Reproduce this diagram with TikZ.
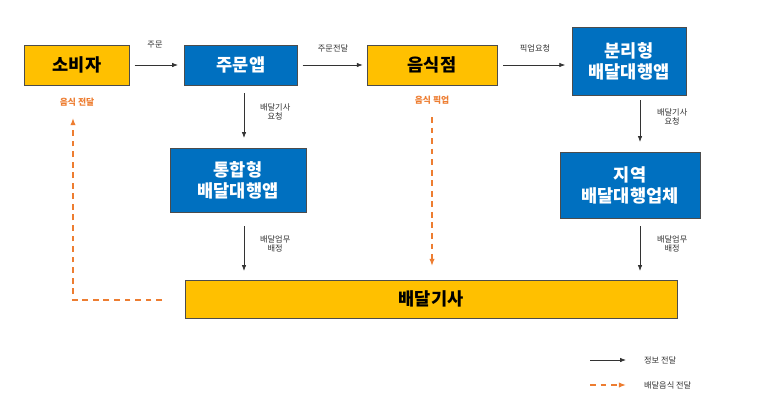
\documentclass[tikz,border=0pt]{standalone}
\usepackage{fontspec}
\setmainfont{Noto Sans CJK KR}
\usetikzlibrary{positioning,arrows.meta}
\definecolor{boxblue}{HTML}{0070C0}
\definecolor{boxgold}{HTML}{FFC000}
\definecolor{dashor}{HTML}{ED7D31}
\tikzset{
  gold/.style={draw=black!70, fill=boxgold, font=\fontsize{15}{17}\selectfont\bfseries, text=black, inner sep=0pt},
  blue/.style={draw=black!70, fill=boxblue, font=\fontsize{15}{18}\selectfont\bfseries, text=white, inner sep=0pt, align=center},
  info/.style={-{Latex[length=5pt]}, black!80, line width=0.6pt},
  food/.style={-{Latex[length=6pt]}, dashor, line width=1.6pt, dash pattern=on 5pt off 4pt},
  lbl/.style={font=\fontsize{7}{8}\selectfont, text=black!80, align=center},
  olbl/.style={font=\fontsize{7.5}{9}\selectfont\bfseries, text=dashor}
}
\begin{document}
\begin{tikzpicture}[x=0.03cm,y=-0.03cm]
	\useasboundingbox (0,0) rectangle (761,412);
	% top row
	\node [gold, minimum width=105*0.03cm, minimum height=40*0.03cm] (consumer) at (77,65) {소비자};
	\node [blue, minimum width=113*0.03cm, minimum height=40*0.03cm] (orderapp) at (241,65) {주문앱};
	\node [gold, minimum width=130*0.03cm, minimum height=40*0.03cm] (store) at (432,65) {음식점};
	\node [blue, minimum width=114*0.03cm, minimum height=68*0.03cm] (sepapp) at (629,61) {분리형\\배달대행앱};
	% middle row
	\node [blue, minimum width=136*0.03cm, minimum height=64*0.03cm] (intapp) at (238,180) {통합형\\배달대행앱};
	\node [blue, minimum width=140*0.03cm, minimum height=66*0.03cm] (local) at (630,185) {지역\\배달대행업체};
	% bottom
	\node [gold, minimum width=492*0.03cm, minimum height=38*0.03cm] (rider) at (431,299) {배달기사};
	% orange labels
	\node [olbl] (deliv) at (77,102) {음식 전달};
	\node [olbl] (pickup) at (432,100) {음식 픽업};
	% info arrows
	\draw [info] (consumer.east) ++(5,0) coordinate (c1) -- (orderapp.west -| 178,0) coordinate (c2);
	\node [lbl] at (155,45) {주문};
	\draw [info] (orderapp.east) ++(5,0) -- ++(60,0);
	\node [lbl] at (333,48) {주문전달};
	\draw [info] (store.east) ++(6,0) -- ++(62,0);
	\node [lbl] at (535,48) {픽업요청};
	\coordinate (a1) at (244,93); \coordinate (a2) at (244,138);
	\draw [info] (a1) -- (a2);
	\node [lbl, right] at (256,112) {배달기사\\요청};
	\coordinate (b1) at (640,100); \coordinate (b2) at (640,142);
	\draw [info] (b1) -- (b2);
	\node [lbl, right] at (653,117) {배달기사\\요청};
	\coordinate (d1) at (244,226); \coordinate (d2) at (244,271);
	\draw [info] (d1) -- (d2);
	\node [lbl, right] at (256,244) {배달업무\\배정};
	\coordinate (e1) at (640,226); \coordinate (e2) at (640,271);
	\draw [info] (e1) -- (e2);
	\node [lbl, right] at (653,244) {배달업무\\배정};
	% food arrows
	\coordinate (f1) at (432,117); \coordinate (f2) at (432,266);
	\draw [food] (f1) -- (f2);
	\coordinate (g1) at (162,300); \coordinate (g2) at (73,118);
	\draw [food] (g1) -| (g2);
	% legend
	\coordinate (l1) at (590,360); \coordinate (l2) at (626,360);
	\draw [info] (l1) -- (l2);
	\node [lbl, right] at (640,360) {정보 전달};
	\coordinate (l3) at (590,385); \coordinate (l4) at (626,385);
	\draw [food] (l3) -- (l4);
	\node [lbl, right] at (640,385) {배달음식 전달};
\end{tikzpicture}
\end{document}
